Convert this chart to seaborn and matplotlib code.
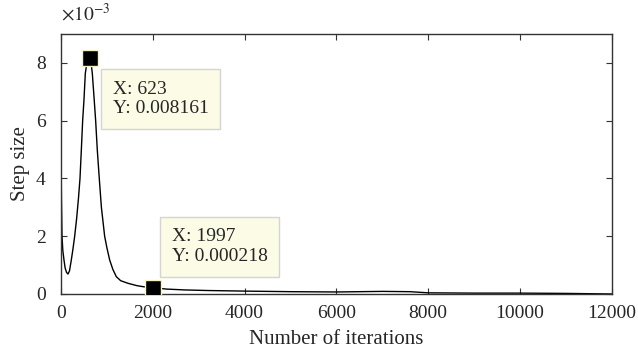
import matplotlib
matplotlib.use("Agg")
import matplotlib.pyplot as plt
import seaborn as sns
import numpy as np
import pandas as pd

# Data (step size in units of 1e-3)
iterations = [0, 10, 22, 40, 65, 90, 120, 152, 185, 225, 260, 298, 340, 380, 414,
              443, 472, 500, 530, 560, 590, 623, 655, 682, 720, 755, 791, 834,
              880, 951, 1000, 1060, 1130, 1205, 1300, 1459, 1650, 1800, 1997,
              2300, 2700, 3200, 4000, 5000, 6000, 7000, 7600, 8000, 9000,
              10000, 11000, 12000]
step_e3 = [4.9, 3.3, 2.0, 1.5, 1.18, 0.9, 0.75, 0.69, 0.8, 1.18, 1.55, 2.0, 2.6,
           3.3, 4.0, 4.98, 6.0, 6.7, 7.64, 7.95, 8.1, 8.161, 8.0, 7.64, 6.8, 6.0,
           4.98, 4.0, 3.0, 2.0, 1.6, 1.18, 0.85, 0.6, 0.46, 0.37, 0.29, 0.25,
           0.218, 0.17, 0.14, 0.12, 0.10, 0.08, 0.07, 0.09, 0.08, 0.04, 0.03,
           0.03, 0.02, 0.0]
tip_x = [623, 1997]
tip_y = [0.008161, 0.000218]
x_ticks = [0, 2000, 4000, 6000, 8000, 10000, 12000]
y_ticks = [0, 2, 4, 6, 8]

sns.set_style("ticks")
plt.rcParams['font.family'] = ['Liberation Serif', 'DejaVu Serif']
plt.rcParams['mathtext.fontset'] = 'stix'

df = pd.DataFrame({"x": iterations, "y": np.array(step_e3)})

fig = plt.figure(figsize=(6.38, 3.57), dpi=100)
ax = fig.add_axes([0.0956, 0.1765, 0.8634, 0.7285])
sns.lineplot(data=df, x="x", y="y", ax=ax, color="black", lw=1.0)

# data tip markers
ax.scatter(tip_x, [v * 1e3 for v in tip_y], marker="s", s=120, color="black",
           edgecolors="#F5F2C8", linewidths=1.0, zorder=5)

box = dict(boxstyle="square,pad=0.6", facecolor="#FCFBE6", edgecolor="#D4D4D4", lw=1.0)
ax.text(1132, 6.75, "X: %d\nY: %.6f" % (tip_x[0], tip_y[0]), fontsize=14,
        va="center", ha="left", bbox=box, linespacing=1.2)
ax.text(2417, 1.64, "X: %d\nY: %.6f" % (tip_x[1], tip_y[1]), fontsize=14,
        va="center", ha="left", bbox=box, linespacing=1.2)

ax.set_xlim(0, 12000)
ax.set_ylim(0, 9)
ax.set_xticks(x_ticks)
ax.set_yticks(y_ticks)
ax.set_xticklabels([str(t) for t in x_ticks])
ax.set_yticklabels([str(t) for t in y_ticks])
ax.tick_params(direction="in", top=True, right=True, labelsize=14, length=4,
               color="#333333")
ax.tick_params(axis="x", pad=8)
ax.tick_params(axis="y", pad=11)
for s in ax.spines.values():
    s.set_visible(True)
    s.set_color("#333333")
    s.set_linewidth(1.0)

ax.set_xlabel("Number of iterations", fontsize=15, labelpad=6)
ax.set_ylabel("Step size", fontsize=15, labelpad=4)
ax.text(0.0, 1.035, r"$\times 10^{-3}$", transform=ax.transAxes, fontsize=14,
        ha="left", va="bottom")

fig.savefig("out.png", dpi=100)
